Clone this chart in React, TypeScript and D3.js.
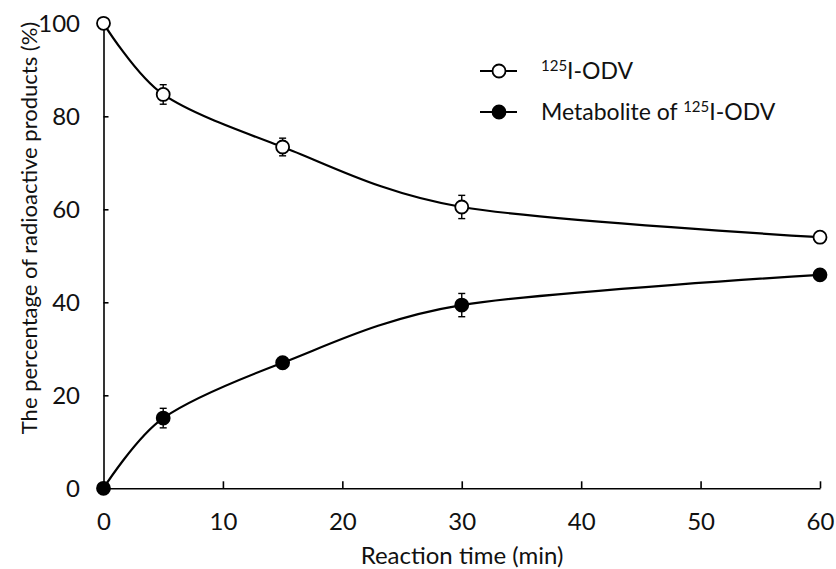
import React, { useEffect, useRef } from 'react'
import * as d3 from 'd3'

// reaction time (min)
const times = [0, 5, 15, 30, 60]
// 125I-ODV (%)
const odvValues = [100, 84.7, 73.4, 60.5, 54]
const odvErrors = [0, 2.1, 1.9, 2.5, 0]
// metabolite (%)
const metaValues = [0, 15.1, 27.0, 39.4, 45.9]
const metaErrors = [0, 2.1, 0, 2.5, 0]

const xTicks = [0, 10, 20, 30, 40, 50, 60]
const yTicks = [0, 20, 40, 60, 80, 100]

const FONT = 'Lato, "Open Sans", sans-serif'
const INK = '#111'

export default function App() {
  const svgRef = useRef<SVGSVGElement>(null)

  useEffect(() => {
    const width = 836
    const height = 569
    const svg = d3.select(svgRef.current)
    svg.selectAll('*').remove()

    // scales
    const x = d3.scaleLinear().domain([0, 60]).range([103.5, 820])
    const y = d3.scaleLinear().domain([0, 100]).range([488.3, 23.3])

    // axes
    const xAxis = d3.axisBottom(x).tickValues(xTicks).tickSizeInner(-7).tickSizeOuter(0).tickPadding(25)
    const yAxis = d3.axisLeft(y).tickValues(yTicks).tickSizeInner(-5).tickSizeOuter(0).tickPadding(23.5)

    const gx = svg.append('g').attr('transform', `translate(0,${y(0)})`).call(xAxis)
    const gy = svg.append('g').attr('transform', `translate(${x(0)},0)`).call(yAxis)
    for (const g of [gx, gy]) {
      g.select('.domain').attr('stroke', '#000').attr('stroke-width', 1.6)
      g.selectAll('.tick line').attr('stroke', '#000').attr('stroke-width', 1.6)
      g.selectAll('.tick text')
        .attr('fill', INK)
        .style('font-family', FONT)
        .style('font-size', '24px')
    }
    gx.selectAll('.tick text').attr('dy', '0.71em')
    gy.selectAll('.tick text').attr('dy', '0.36em')

    // axis titles
    svg.append('text')
      .attr('x', 462)
      .attr('y', 564)
      .attr('text-anchor', 'middle')
      .style('font-family', FONT)
      .style('font-size', '24px')
      .attr('fill', INK)
      .text('Reaction time (min)')

    svg.append('text')
      .attr('transform', 'translate(37,228) rotate(-90)')
      .attr('text-anchor', 'middle')
      .style('font-family', FONT)
      .style('font-size', '22px')
      .attr('fill', INK)
      .text('The percentage of radioactive products (%)')

    const line = d3.line<number>()
      .x((_, i) => x(times[i]))
      .y(d => y(d))
      .curve(d3.curveCardinal.tension(0.1))

    const series = [
      { values: odvValues, errors: odvErrors, fill: '#fff' },
      { values: metaValues, errors: metaErrors, fill: '#000' },
    ]

    series.forEach(s => {
      svg.append('path')
        .datum(s.values)
        .attr('d', line)
        .attr('fill', 'none')
        .attr('stroke', '#000')
        .attr('stroke-width', 2.2)

      // error bars
      const eg = svg.append('g')
      s.values.forEach((v, i) => {
        const e = s.errors[i]
        if (!e) return
        const cx = x(times[i])
        eg.append('line').attr('x1', cx).attr('x2', cx)
          .attr('y1', y(v + e)).attr('y2', y(v - e))
          .attr('stroke', '#000').attr('stroke-width', 1.4)
        for (const yy of [y(v + e), y(v - e)]) {
          eg.append('line').attr('x1', cx - 3.5).attr('x2', cx + 3.5)
            .attr('y1', yy).attr('y2', yy)
            .attr('stroke', '#000').attr('stroke-width', 1.4)
        }
      })

      svg.append('g').selectAll('circle')
        .data(s.values)
        .join('circle')
        .attr('cx', (_, i) => x(times[i]))
        .attr('cy', d => y(d))
        .attr('r', 6.5)
        .attr('fill', s.fill)
        .attr('stroke', '#000')
        .attr('stroke-width', 1.8)
    })

    // legend
    const legend = [
      { pre: '', fill: '#fff', yy: 71 },
      { pre: 'Metabolite of ', fill: '#000', yy: 112 },
    ]
    legend.forEach(l => {
      svg.append('line').attr('x1', 480).attr('x2', 517)
        .attr('y1', l.yy).attr('y2', l.yy)
        .attr('stroke', '#000').attr('stroke-width', 2.2)
      svg.append('circle').attr('cx', 499).attr('cy', l.yy).attr('r', 6.5)
        .attr('fill', l.fill).attr('stroke', '#000').attr('stroke-width', 1.8)
      const t = svg.append('text')
        .attr('x', 541)
        .attr('y', l.yy + 8)
        .style('font-family', FONT)
        .style('font-size', '23px')
        .attr('fill', INK)
      if (l.pre) t.append('tspan').text(l.pre)
      t.append('tspan').attr('font-size', '15px').attr('dy', -8).text('125')
      t.append('tspan').attr('dy', 8).text('I-ODV')
    })

    svg.attr('width', width).attr('height', height)
  }, [])

  return (
    <svg ref={svgRef} width={836} height={569}
      style={{ position: 'absolute', left: 0, top: 0, background: '#fff' }} />
  )
}
